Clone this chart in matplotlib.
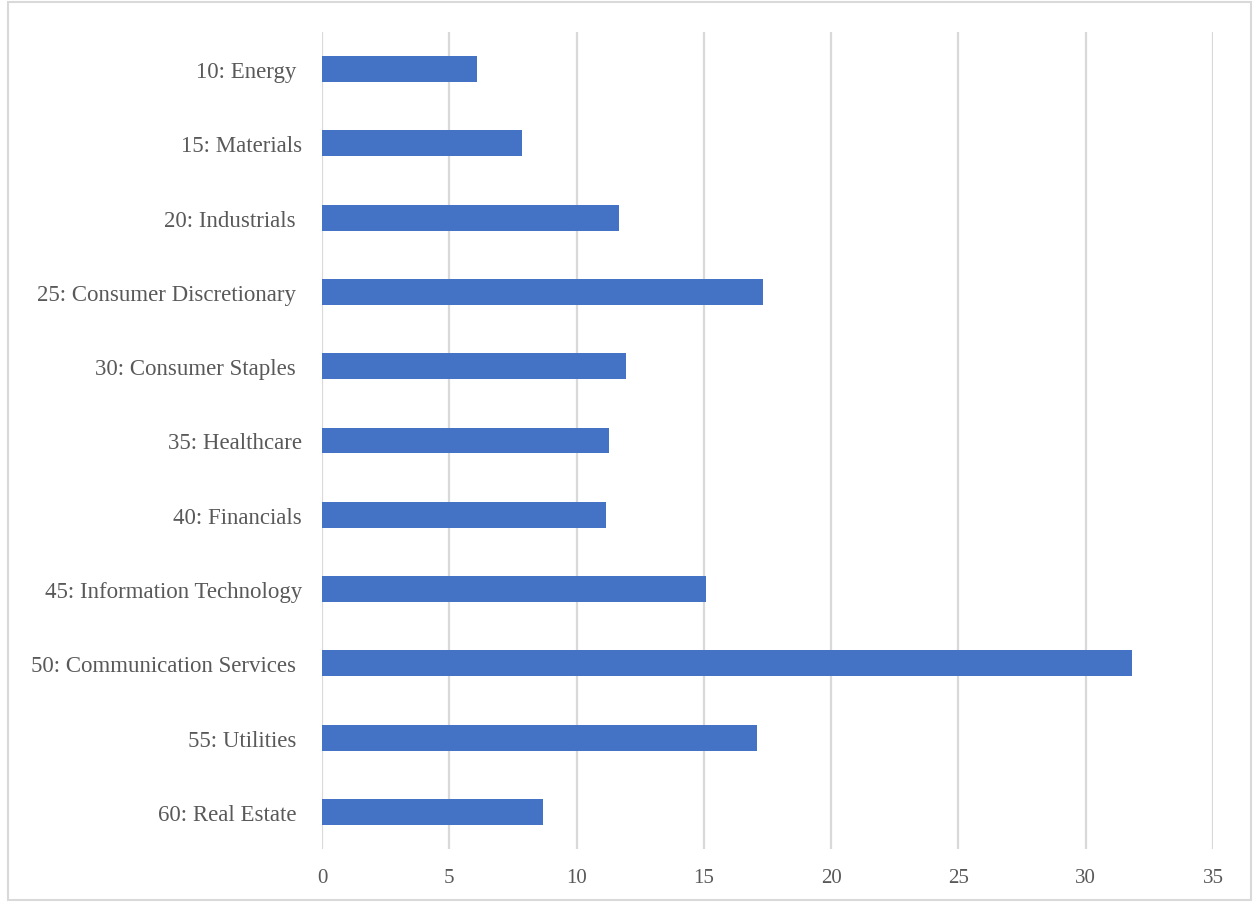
import matplotlib
matplotlib.use("Agg")
import matplotlib.pyplot as plt
from matplotlib.patches import Rectangle

categories = [
    "10: Energy ",
    "15: Materials",
    "20: Industrials ",
    "25: Consumer Discretionary ",
    "30: Consumer Staples ",
    "35: Healthcare",
    "40: Financials",
    "45: Information Technology",
    "50: Communication Services ",
    "55: Utilities ",
    "60: Real Estate ",
]
values = [6.07, 7.84, 11.66, 17.33, 11.95, 11.27, 11.16, 15.08, 31.83, 17.09, 8.68]
x_ticks = [0, 5, 10, 15, 20, 25, 30, 35]

plt.rcParams["font.family"] = ["Liberation Serif", "DejaVu Serif"]

fig = plt.figure(figsize=(12.53, 9.03), dpi=100)
ax = fig.add_axes([322 / 1253, 1 - 850 / 903, (1213 - 322) / 1253, (850 - 33) / 903])

ypos = list(range(len(categories)))
ax.barh(ypos, values, height=0.35, color="#4472C4", zorder=3)

ax.set_xlim(0, 35)
ax.set_ylim(len(categories) - 0.5, -0.5)
ax.set_xticks(x_ticks)
ax.set_yticks(ypos)
ax.set_yticklabels(categories)
ax.grid(axis="x", color="#d9d9d9", linewidth=1.6, zorder=0)
ax.grid(axis="y", visible=False)
for s in ax.spines.values():
    s.set_visible(False)
ax.tick_params(axis="both", length=0, colors="#595959")
ax.tick_params(axis="y", pad=14.5, labelsize=16.5)
ax.tick_params(axis="x", pad=14, labelsize=15)

fig.patches.append(Rectangle((8 / 1253, 2 / 903), 1243 / 1253, 898 / 903,
                             transform=fig.transFigure, fill=False,
                             edgecolor="#d9d9d9", linewidth=1.5))

fig.savefig("out.png", dpi=100)
